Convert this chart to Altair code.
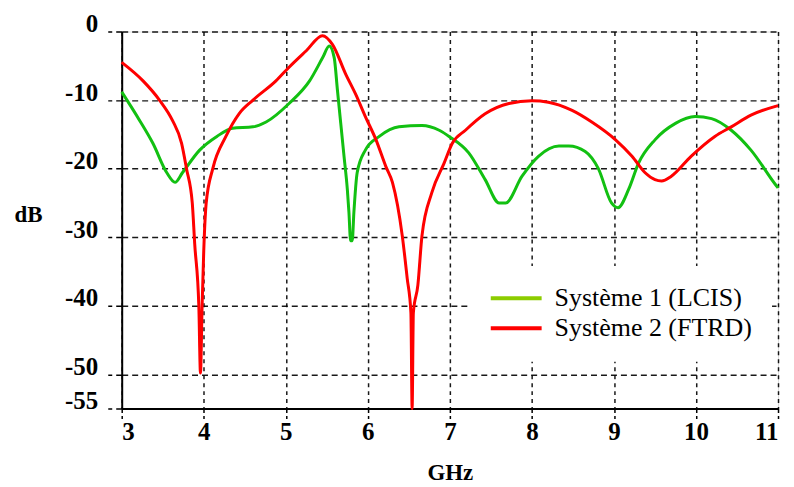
import altair as alt
import pandas as pd

# Système 2 (FTRD) - red
s2_x = [3.0, 3.26, 3.46, 3.62, 3.73, 3.79, 3.86, 3.89, 3.94, 3.96, 3.98, 4.0, 4.03, 4.11,
        4.27, 4.43, 4.6, 4.88, 5.04, 5.25, 5.447, 5.57, 5.73, 5.85, 5.97, 6.1, 6.22,
        6.3, 6.42, 6.48, 6.525, 6.54, 6.555, 6.61, 6.66, 6.78, 6.93, 7.03, 7.19, 7.43,
        7.72, 8.0, 8.2, 8.49, 8.73, 9.02, 9.22, 9.38, 9.5, 9.58, 9.7, 9.94, 10.23,
        10.43, 10.67, 11.0]
s2_y = [-4.5, -7.2, -10, -13, -16.3, -20, -25, -31, -40, -49.8, -40, -32, -25, -20,
        -15.3, -12, -10, -7.2, -5.2, -2.8, -0.6, -1.9, -6.2, -9.1, -12.4, -15.8, -19.7,
        -22, -29.8, -36, -41, -55, -41, -37, -29.8, -23.5, -19.2, -16.3, -14.4, -12,
        -10.5, -10.1, -10.3, -11.5, -13.2, -15.8, -18.2, -20.6, -21.6, -21.8, -21.1, -18.2, -15.3,
        -13.9, -12.2, -10.8]

# Système 1 (LCIS) - green
s1_x = [3.0, 3.22, 3.38, 3.55, 3.65, 3.74, 3.95, 4.16, 4.35, 4.6, 4.76, 5.04, 5.29,
        5.45, 5.53, 5.59, 5.63, 5.67, 5.71, 5.75, 5.77, 5.79, 5.81, 5.83, 5.87, 5.97,
        6.14, 6.38, 6.66, 6.87, 6.99, 7.23, 7.43, 7.6, 7.68, 7.88, 8.08, 8.33, 8.45,
        8.65, 8.81, 8.97, 9.05, 9.18, 9.3, 9.5, 9.75, 9.99, 10.19, 10.43, 10.67, 10.98, 11.0]
s1_y = [-8.8, -13, -16.3, -20.6, -22, -20.6, -17.3, -15.3, -14.1, -13.9, -13.2, -10.5, -7.2,
        -3.8, -2.1, -3.8, -8.6, -13.4, -18.2, -23, -26.4, -30.5, -30.5, -26.4, -20.6, -17.3,
        -15.3, -13.9, -13.7, -14.4, -15.3, -17.7, -21.6, -25, -25, -21.1, -18.2, -16.7, -16.7,
        -17.5, -20, -25, -25.7, -23, -19.2, -15.8, -13.4, -12.4, -12.7, -14.4, -17.3, -22.5, -22.8]

series_names = ["Système 1 (LCIS)", "Système 2 (FTRD)"]
line_colors = ["#12c012", "#ff0000"]
legend_colors = ["#8ccc00", "#ff0000"]

x_ticks = [3, 4, 5, 6, 7, 8, 9, 10, 11]
y_ticks = [0, -10, -20, -30, -40, -50, -55]

rows = []
for i, (x, y) in enumerate(zip(s1_x, s1_y)):
    rows.append({"GHz": x, "dB": y, "serie": series_names[0], "order": i})
for i, (x, y) in enumerate(zip(s2_x, s2_y)):
    rows.append({"GHz": x, "dB": y, "serie": series_names[1], "order": i})
df = pd.DataFrame(rows)

font = "Liberation Serif"

base = alt.Chart(df).encode(
    x=alt.X("GHz:Q",
            scale=alt.Scale(domain=[3, 11], nice=False, zero=False),
            axis=alt.Axis(values=x_ticks, title="GHz", labelExpr="'' + datum.value",
                          grid=True, gridColor="#000000", gridDash=[4, 4], gridWidth=1.5, gridOpacity=0.9,
                          tickColor="#000000", tickSize=10, tickWidth=1.5, tickDash=[4, 3],
                          domainColor="#000000", domainWidth=2,
                          labelFont=font, labelFontSize=25, labelFontWeight="bold", labelColor="#000000",
                          labelPadding=1,
                          titleFont=font, titleFontSize=23, titleFontWeight="bold", titleColor="#000000",
                          titleY=64, titleBaseline="middle")),
    y=alt.Y("dB:Q",
            scale=alt.Scale(domain=[-55, 0], nice=False, zero=False),
            axis=alt.Axis(values=y_ticks, title="dB", labelExpr="'' + datum.value",
                          grid=True, gridColor="#000000", gridDash=[6, 4], gridWidth=1.5, gridOpacity=0.9,
                          tickColor="#000000", tickSize=14, tickWidth=1.5, tickDash=[6, 4],
                          domainColor="#000000", domainWidth=2,
                          labelFont=font, labelFontSize=25, labelFontWeight="bold", labelColor="#000000",
                          labelBaseline="alphabetic", labelPadding=10,
                          titleFont=font, titleFontSize=23, titleFontWeight="bold", titleColor="#000000",
                          titleAngle=0, titleX=-94, titleY=183, titleAlign="center",
                          titleBaseline="middle")),
    order="order:Q",
)

# under-layer that carries the legend (its colours), hidden beneath the real lines
legend_layer = base.mark_line(strokeWidth=1.5, interpolate="monotone").encode(
    color=alt.Color("serie:N", scale=alt.Scale(domain=series_names, range=legend_colors),
                    legend=alt.Legend(title=None, orient="none", legendX=348, legendY=235,
                                      fillColor="#ffffff", padding=20,
                                      symbolType="stroke", symbolSize=2601, symbolStrokeWidth=4,
                                      clipHeight=25,
                                      labelFont=font, labelFontSize=26, labelColor="#000000",
                                      labelOffset=11, rowPadding=3, labelLimit=400)),
)

lines = base.mark_line(strokeWidth=3, interpolate="monotone").encode(
    stroke=alt.Stroke("serie:N", scale=alt.Scale(domain=series_names, range=line_colors), legend=None),
)

chart = alt.layer(legend_layer, lines).properties(
    width=658,
    height=378,
    autosize=alt.AutoSizeParams(type="none"),
    padding={"left": 114, "top": 23, "right": 8, "bottom": 76},
).configure_view(
    stroke="#000000", strokeWidth=2
).configure(background="#ffffff")

chart.save("out.html", embed_options={"renderer": "svg", "actions": False})
